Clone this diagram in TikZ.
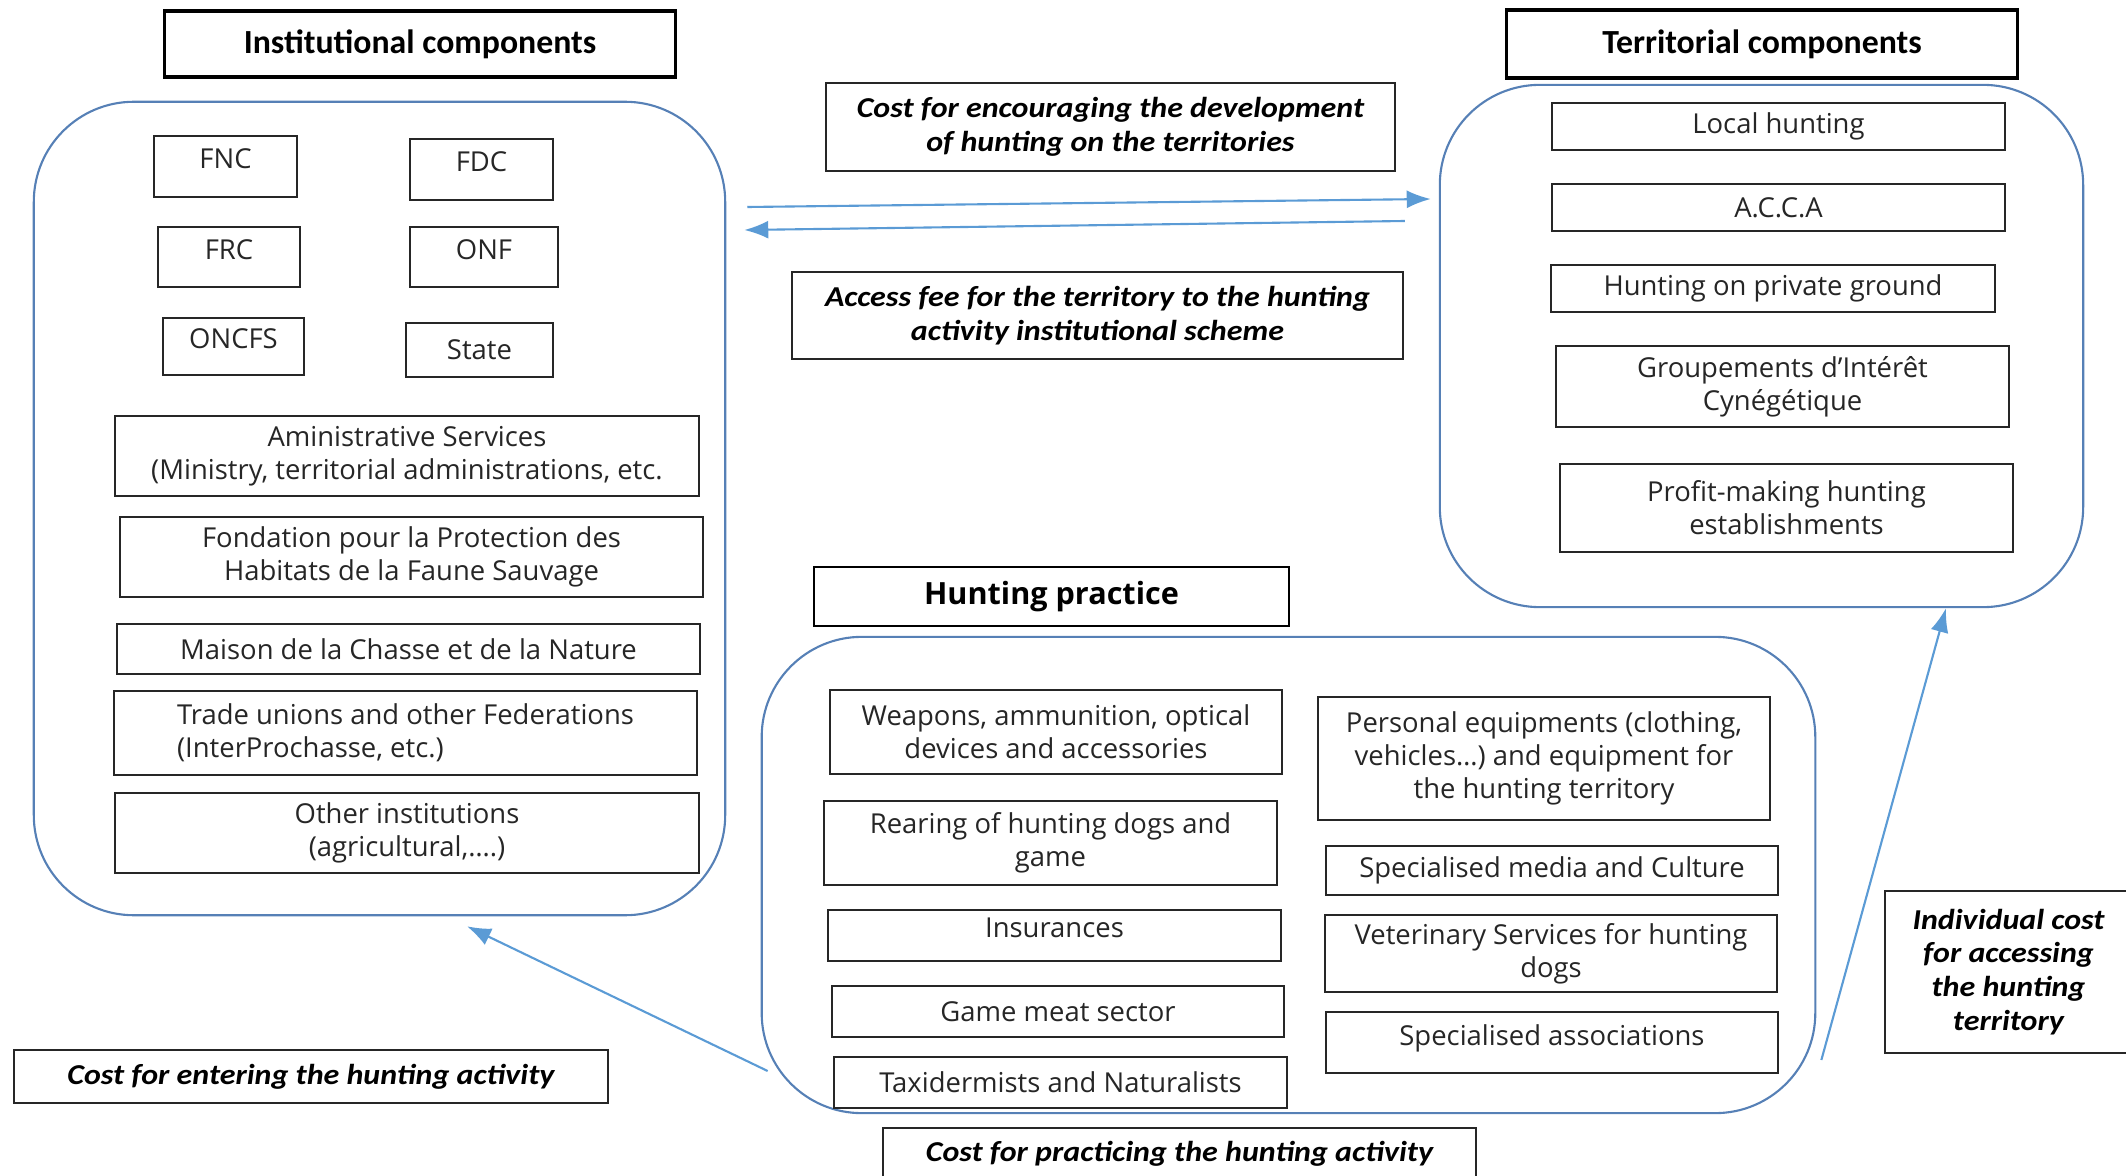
\documentclass[tikz,border=0pt]{standalone}
\usepackage{fontspec}
\setmainfont{Open Sans}
\newfontfamily\calfont{Carlito}
\newfontfamily\costfont{Carlito}[FakeStretch=1.11]
\usetikzlibrary{arrows.meta,calc}
\definecolor{frameblue}{RGB}{86,128,182}
\definecolor{arrowblue}{RGB}{91,155,213}
\begin{document}
\begin{tikzpicture}[>={Latex[length=2.4mm,width=1.8mm]}, x=0.01cm, y=-0.01cm,
    every node/.style={font=\fontsize{7.8}{9.4}\selectfont},
    box/.style={draw=black!85, line width=0.5pt, fill=white, align=center, inner sep=1pt, text=black!85},
    upper/.style={text depth=0.15cm},
    heading/.style={draw, line width=0.9pt, font=\calfont\bfseries\fontsize{9.6}{11}\selectfont},
    cost/.style={draw=black!85, line width=0.6pt, fill=white, align=center,
        font=\costfont\bfseries\itshape\fontsize{8.2}{9.6}\selectfont},
    panel/.style={draw=frameblue, line width=0.6pt, rounded corners=1cm},
    flow/.style={->, color=arrowblue, line width=0.6pt}]
    \useasboundingbox (0,0) rectangle (2126,1176);
    \clip (0,0) rectangle (2126,1176);
    \node[panel, minimum width=6.91cm, minimum height=8.13cm] (inst) at (379.5,508.5) {};
    \node[panel, minimum width=6.43cm, minimum height=5.22cm] (terr) at (1761.5,346) {};
    \node[panel, minimum width=10.53cm, minimum height=4.76cm] (hunt) at (1288.5,875) {};
    \node[heading, minimum width=5.1cm, minimum height=0.66cm] (insttitle) at (420,44) {Institutional components};
    \node[heading, minimum width=5.1cm, minimum height=0.68cm] (terrtitle) at (1762,44) {Territorial components};
    \node[heading, font=\bfseries\fontsize{8.7}{10}\selectfont, line width=0.7pt, minimum width=4.75cm, minimum height=0.59cm] (hunttitle) at (1051.5,596.5) {Hunting practice};
    \node[box, upper, minimum width=1.43cm, minimum height=0.61cm] (fnc) at (225.5,166.5) {FNC};
    \node[box, upper, minimum width=1.43cm, minimum height=0.61cm] (fdc) at (481.5,169.5) {FDC};
    \node[box, upper, minimum width=1.42cm, minimum height=0.6cm] (frc) at (229,257) {FRC};
    \node[box, upper, minimum width=1.48cm, minimum height=0.6cm] (onf) at (484,257) {ONF};
    \node[box, upper, minimum width=1.41cm, minimum height=0.57cm] (oncfs) at (233.5,346.5) {ONCFS};
    \node[box, minimum width=1.47cm, minimum height=0.54cm] (state) at (479.5,350) {State};
    \node[box, minimum width=5.84cm, minimum height=0.8cm] (admin) at (407,456) {Aministrative Services\\(Ministry, territorial administrations, etc.};
    \node[box, minimum width=5.83cm, minimum height=0.8cm] (fondation) at (411.5,557) {Fondation pour la Protection des\\Habitats de la Faune Sauvage};
    \node[box, minimum width=5.83cm, minimum height=0.5cm] (maison) at (408.5,649) {Maison de la Chasse et de la Nature};
    \node[box, align=left, minimum width=5.83cm, minimum height=0.84cm] (unions) at (405.5,733) {Trade unions and other Federations\\ (InterProchasse, etc.)};
    \node[box, minimum width=5.84cm, minimum height=0.8cm] (otherinst) at (407,833) {Other institutions\\(agricultural,….)};
    \node[box, minimum width=4.53cm, minimum height=0.47cm] (local) at (1778.5,126.5) {Local hunting};
    \node[box, minimum width=4.53cm, minimum height=0.47cm] (acca) at (1778.5,207.5) {A.C.C.A};
    \node[box, minimum width=4.44cm, minimum height=0.47cm] (private) at (1773,288.5) {Hunting on private ground};
    \node[box, minimum width=4.53cm, minimum height=0.81cm] (gic) at (1782.5,386.5) {Groupements d’Intérêt\\Cynégétique};
    \node[box, minimum width=4.53cm, minimum height=0.88cm] (profit) at (1786.5,508) {Profit-making hunting\\establishments};
    \node[box, minimum width=4.52cm, minimum height=0.84cm] (weapons) at (1056,732) {Weapons, ammunition, optical\\devices and accessories};
    \node[box, minimum width=4.53cm, minimum height=0.84cm] (rearing) at (1050.5,843) {Rearing of hunting dogs and\\game};
    \node[box, upper, minimum width=4.53cm, minimum height=0.51cm] (insurance) at (1054.5,935.5) {Insurances};
    \node[box, minimum width=4.52cm, minimum height=0.51cm] (gamemeat) at (1058,1011.5) {Game meat sector};
    \node[box, minimum width=4.53cm, minimum height=0.51cm] (taxidermy) at (1060.5,1082.5) {Taxidermists and Naturalists};
    \node[box, minimum width=4.52cm, minimum height=1.23cm] (personal) at (1544,758.5) {Personal equipments (clothing,\\vehicles…) and equipment for\\the hunting territory};
    \node[box, minimum width=4.52cm, minimum height=0.49cm] (media) at (1552,870.5) {Specialised media and Culture};
    \node[box, minimum width=4.52cm, minimum height=0.77cm] (vet) at (1551,953.5) {Veterinary Services for hunting\\dogs};
    \node[box, upper, minimum width=4.52cm, minimum height=0.61cm] (assoc) at (1552,1042.5) {Specialised associations};
    \node[cost, minimum width=5.69cm, minimum height=0.88cm] (encourage) at (1110.5,127) {Cost for encouraging the development\\of hunting on the territories};
    \node[cost, minimum width=6.11cm, minimum height=0.87cm] (access) at (1097.5,315.5) {Access fee for the territory to the hunting\\activity institutional scheme};
    \node[cost, minimum width=5.94cm, minimum height=0.53cm] (entering) at (311,1076.5) {Cost for entering the hunting activity};
    \node[cost, minimum width=5.93cm, minimum height=0.52cm] (practicing) at (1179.5,1154) {Cost for practicing the hunting activity};
    \node[cost, minimum width=2.47cm, minimum height=1.62cm] (individual) at (2008.5,972) {Individual cost\\for accessing\\the hunting\\territory};
    \draw[flow] ($(inst.east |- 0,207)+(21,0)$) -- ($(terr.west |- 0,199)+(-8,0)$);
    \draw[flow] ($(terr.west |- 0,221)+(-34,0)$) -- ($(inst.east |- 0,230)+(18,0)$);
    \draw[flow] ($(hunt.west |- 0,1071)+(7,0)$) -- ($(inst.south -| 467,0)+(0,10)$);
    \draw[flow] ($(hunt.east |- 0,1060)+(5,0)$) -- (terr.south -| 1946,0);
\end{tikzpicture}
\end{document}
